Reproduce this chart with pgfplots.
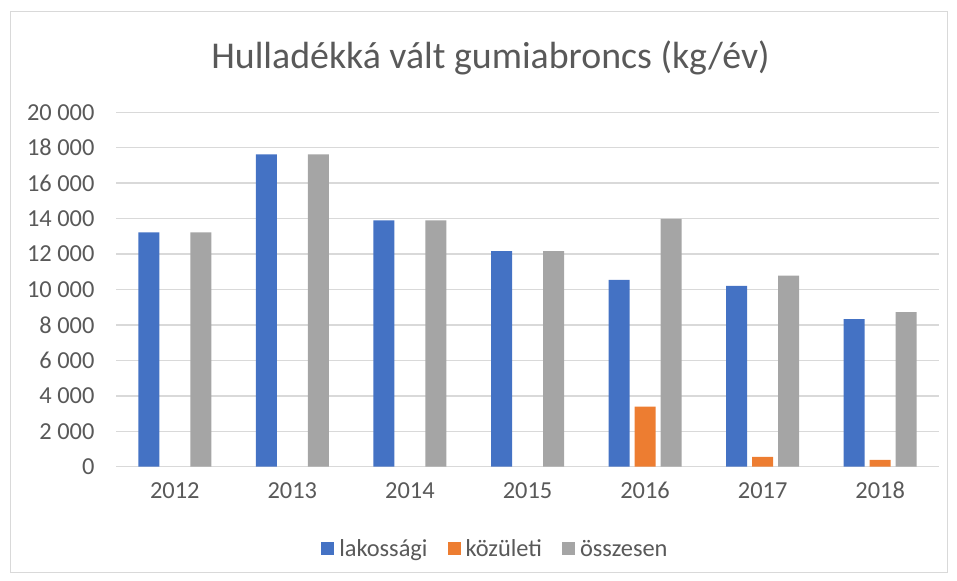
\documentclass[border=0pt]{standalone}
\usepackage{pgfplots}
\pgfplotsset{compat=1.18}
\usepackage{fontspec}
\setmainfont{Carlito}
\definecolor{cblue}{HTML}{4472C4}
\definecolor{corange}{HTML}{ED7D31}
\definecolor{cgray}{HTML}{A5A5A5}
\definecolor{cgrid}{HTML}{D9D9D9}
\definecolor{ctext}{HTML}{595959}
\begin{document}
\begin{tikzpicture}
\path[use as bounding box] (0,0) rectangle (957bp,581bp);
\draw[cgrid, line width=0.8bp] (10bp,9bp) rectangle (947bp,570bp);
\node[text=ctext, font=\fontsize{38}{42}\selectfont, anchor=base] at (490.5bp,512.7bp) {Hulladékká vált gumiabroncs (kg/év)};
\begin{axis}[
  at={(116bp,114.3bp)}, anchor=south west,
  scale only axis, width=823bp, height=354.4bp,
  xmin=-0.5, xmax=6.5, ymin=0, ymax=20000,
  ytick={0,2000,...,20000},
  xtick={0,...,6},
  xticklabels={2012,2013,2014,2015,2016,2017,2018},
  ybar=5bp, bar width=21bp,
  axis line style={draw=none},
  tick style={draw=none},
  ymajorgrids, grid style={cgrid, line width=1.4bp},
  /pgf/number format/.cd, 1000 sep={\ }, assume math mode=true,
  /pgfplots/.cd,
  scaled y ticks=false,
  ticklabel style={text=ctext, font=\fontsize{24.5}{28}\selectfont},
  yticklabel style={xshift=-18bp},
  xticklabel style={anchor=north, text height=2ex, text depth=0pt, yshift=-15bp},
  legend style={at={(0.461,-0.232)}, anchor=center, legend columns=3, draw=none,
    font=\fontsize{24.5}{28}\selectfont, text=ctext,
    /tikz/every even column/.append style={column sep=18bp}},
  legend image code/.code={\fill[#1] (0bp,-6.5bp) rectangle (13bp,6.5bp); \path (16bp,0bp);},
]
\addplot[fill=cblue, draw=none] coordinates {(0,13230) (1,17630) (2,13905) (3,12170) (4,10540) (5,10200) (6,8335)};
\addplot[fill=corange, draw=none] coordinates {(4,3390) (5,560) (6,380)};
\addplot[fill=cgray, draw=none] coordinates {(0,13230) (1,17630) (2,13905) (3,12170) (4,13990) (5,10780) (6,8730)};
\legend{lakossági,közületi,összesen}
\end{axis}
\end{tikzpicture}
\end{document}
